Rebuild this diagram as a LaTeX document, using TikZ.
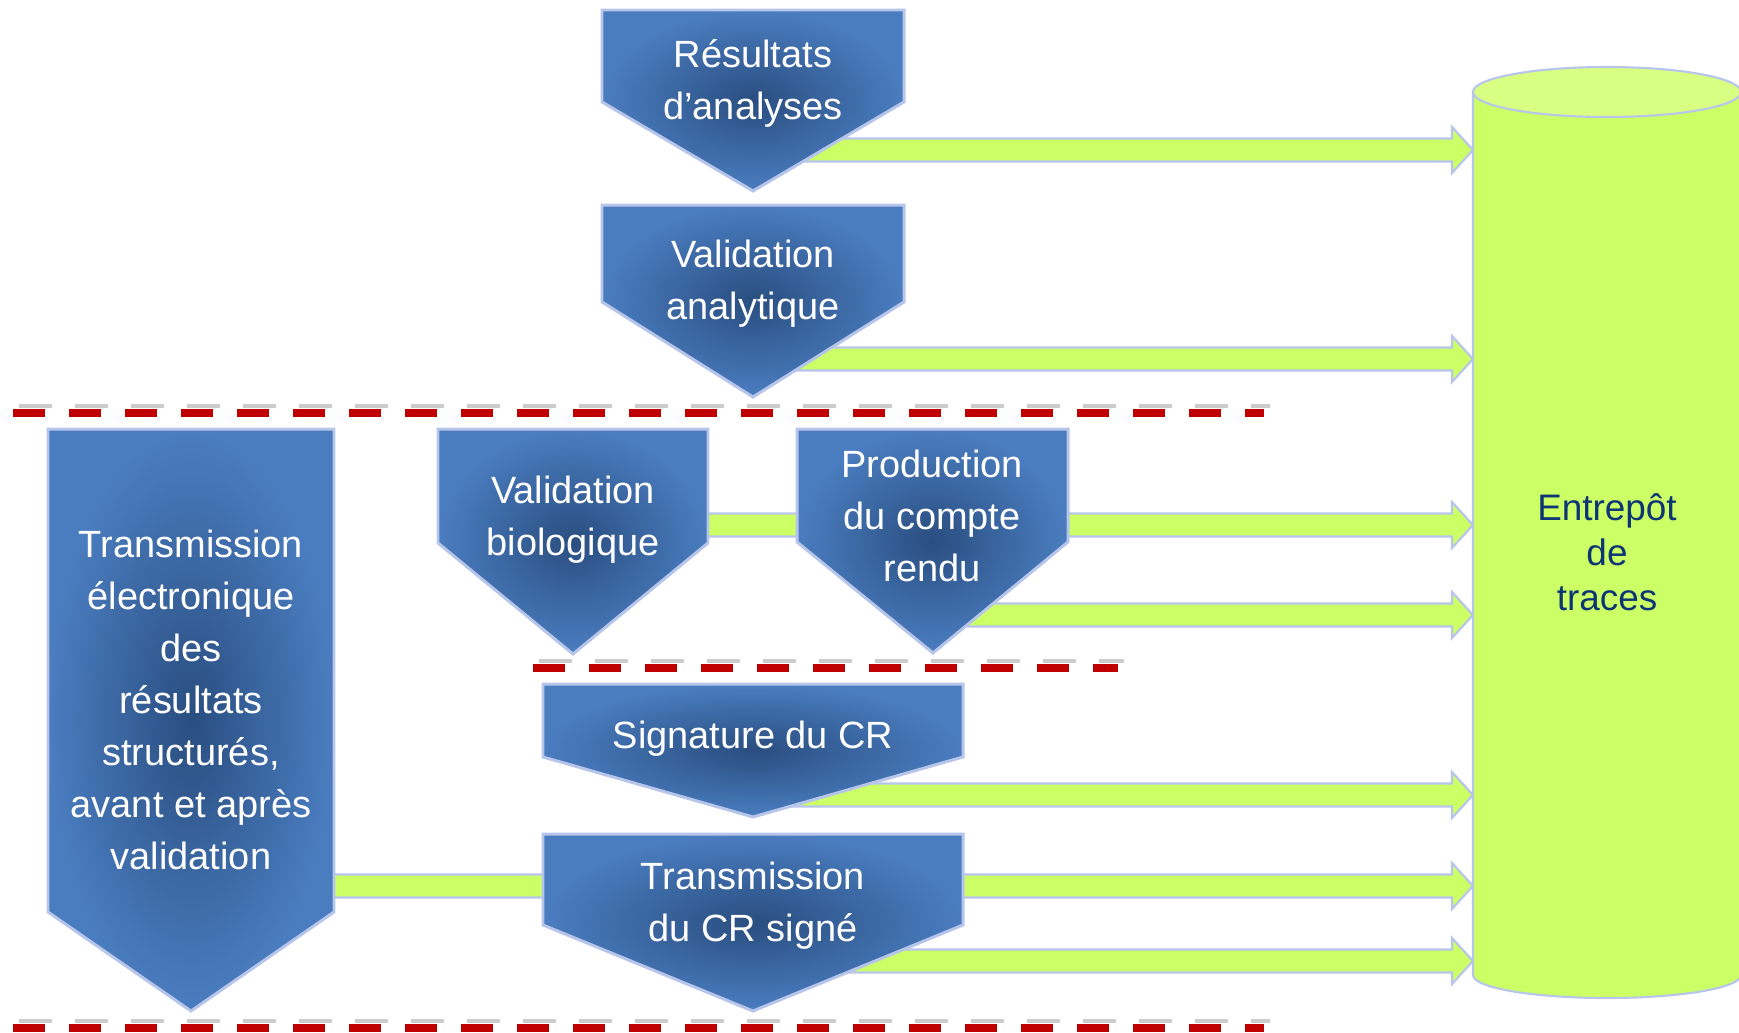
\documentclass[tikz,border=0pt]{standalone}
\usepackage{fontspec}
\setmainfont{Liberation Sans}
\usetikzlibrary{calc}
\definecolor{bleuclair}{HTML}{4A7DC0}
\definecolor{bleufonce}{HTML}{2A4E80}
\definecolor{contour}{HTML}{B7C5EA}
\definecolor{vert}{HTML}{CCFF66}
\definecolor{vertclair}{HTML}{D9FF82}
\definecolor{marine}{HTML}{0D3573}
\definecolor{rouge}{HTML}{C00000}

\tikzset{
  bloc/.style={draw=contour,line width=1.7pt,inner color=bleufonce,outer color=bleuclair},
  texteblanc/.style={text=white,align=center,inner sep=0pt,
    font=\fontsize{21.6pt}{29.6pt}\selectfont},
  textecuve/.style={text=marine,align=center,inner sep=0pt,
    font=\fontsize{21pt}{25.5pt}\selectfont},
  flecheverte/.style={draw=contour,line width=1.2pt,fill=vert},
  cuve/.style={draw=contour,line width=1.2pt,fill=vert},
  cuvehaut/.style={draw=contour,line width=1.2pt,fill=vertclair},
  tirets/.style={draw=rouge,line width=0.16cm,dash pattern=on 0.64cm off 0.48cm},
  ombretirets/.style={draw=gray!40,line width=0.09cm,dash pattern=on 0.66cm off 0.46cm},
}

% fleche verte d'un point cache jusqu'au bord de l'entrepot
\newcommand{\flechecyl}[1]{%
  \draw[flecheverte] ($(#1)+(0,11.5)$) -- ($(#1 -| cylg)+(-21,11.5)$)
    -- ($(#1 -| cylg)+(-21,23)$) -- (#1 -| cylg) -- ($(#1 -| cylg)+(-21,-23)$)
    -- ($(#1 -| cylg)+(-21,-11.5)$) -- ($(#1)+(0,-11.5)$) -- cycle;}

\begin{document}
\begin{tikzpicture}[x=0.02cm,y=-0.02cm]
  \useasboundingbox (0,0) rectangle (1739,1032);

  % entrepot
  \draw[cuve] (1473,92) -- (1473,975)
    arc[start angle=180,end angle=0,x radius=134,y radius=23] -- (1741,92) -- cycle;
  \draw[cuvehaut] (1607,92) ellipse[x radius=134,y radius=25];
  \node[textecuve] (entrepot) at (1607,552) {Entrepôt\\de\\traces};
  \coordinate (cylg) at (1473,0);

  % departs des fleches
  \coordinate (d1) at (753,150);
  \coordinate (d2) at (753,359);
  \coordinate (d3) at (573,525);
  \coordinate (d4) at (932,615);
  \coordinate (d5) at (753,795);
  \coordinate (d6) at (191,886);
  \coordinate (d7) at (753,961);
  \foreach \d in {d1,d2,d3,d4,d5,d6,d7}
    \flechecyl{\d};

  % blocs
  \draw[bloc] (602,10) -- (904,10) -- (904,102) -- (753,191) -- (602,102) -- cycle;
  \node[texteblanc] (resultats) at (753,83) {Résultats\\d’analyses};

  \draw[bloc] (602,205) -- (904,205) -- (904,302) -- (753,397) -- (602,302) -- cycle;
  \node[texteblanc] (validana) at (753,284) {Validation\\analytique};

  \draw[bloc] (48,429) -- (334,429) -- (334,912) -- (191,1011) -- (48,912) -- cycle;
  \node[texteblanc] (transelec) at (191,700)
    {Transmission\\électronique\\des\\résultats\\structurés,\\avant et après\\validation};

  \draw[bloc] (438,429) -- (708,429) -- (708,543) -- (573,654) -- (438,543) -- cycle;
  \node[texteblanc] (validbio) at (573,520) {Validation\\biologique};

  \draw[bloc] (797,429) -- (1068,429) -- (1068,542) -- (933,653) -- (797,542) -- cycle;
  \node[texteblanc] (production) at (932,516) {Production\\du compte\\rendu};

  \draw[bloc] (543,684) -- (963,684) -- (963,757) -- (753,817) -- (543,757) -- cycle;
  \node[texteblanc] (signature) at (753,739) {Signature du CR};

  \draw[bloc] (543,834) -- (963,834) -- (963,925) -- (753,1011) -- (543,925) -- cycle;
  \node[texteblanc] (transcr) at (753,906) {Transmission\\du CR signé};

  % separateurs
  \draw[ombretirets] (19,406) -- (1270,406);
  \draw[tirets] (13,413) -- (1264,413);
  \draw[ombretirets] (539,661) -- (1124,661);
  \draw[tirets] (533,668) -- (1118,668);
  \draw[ombretirets] (19,1021) -- (1270,1021);
  \draw[tirets] (13,1028) -- (1264,1028);
\end{tikzpicture}
\end{document}
